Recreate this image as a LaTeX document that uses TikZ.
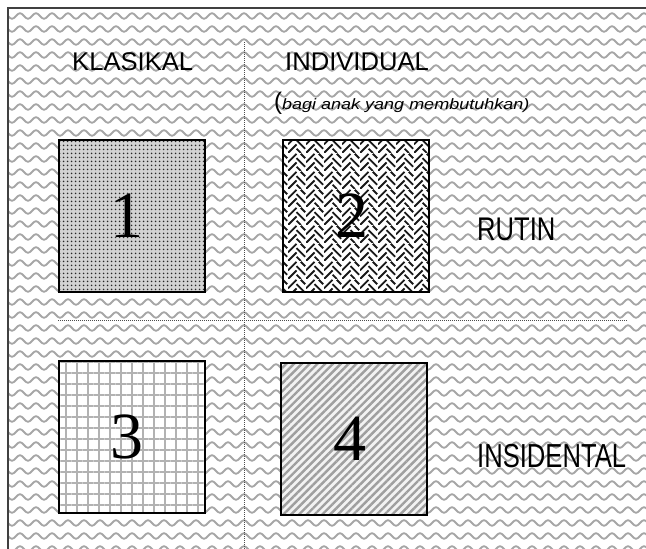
\documentclass[tikz,border=0pt]{standalone}
\usepackage{fontspec}
\setmainfont{Liberation Sans}
\newfontfamily\digitfont{Liberation Serif}
\usetikzlibrary{patterns,patterns.meta}

% wavy background texture
\pgfdeclarepatternformonly{waves}{\pgfpoint{-1pt}{-5pt}}{\pgfpoint{17pt}{5pt}}{\pgfpoint{16pt}{13pt}}{%
    \pgfsetlinewidth{1.8pt}\pgfsetroundcap
    \pgfpathmoveto{\pgfpoint{0pt}{0pt}}
    \pgfpathsine{\pgfpoint{4pt}{2.8pt}}
    \pgfpathcosine{\pgfpoint{4pt}{-2.8pt}}
    \pgfpathsine{\pgfpoint{4pt}{-2.8pt}}
    \pgfpathcosine{\pgfpoint{4pt}{2.8pt}}
    \pgfusepath{stroke}}

% woven texture for cell 2
\pgfdeclarepatternformonly{weave}{\pgfpoint{0pt}{0pt}}{\pgfpoint{18pt}{18pt}}{\pgfpoint{18pt}{18pt}}{%
    \pgfsetlinewidth{1.9pt}
    \pgfpathmoveto{\pgfpoint{0pt}{0pt}}\pgfpathlineto{\pgfpoint{9pt}{9pt}}
    \pgfpathmoveto{\pgfpoint{0pt}{9pt}}\pgfpathlineto{\pgfpoint{9pt}{18pt}}
    \pgfpathmoveto{\pgfpoint{9pt}{13.5pt}}\pgfpathlineto{\pgfpoint{18pt}{4.5pt}}
    \pgfpathmoveto{\pgfpoint{9pt}{4.5pt}}\pgfpathlineto{\pgfpoint{13.5pt}{0pt}}
    \pgfpathmoveto{\pgfpoint{13.5pt}{18pt}}\pgfpathlineto{\pgfpoint{18pt}{13.5pt}}
    \pgfusepath{stroke}}

\begin{document}
\begin{tikzpicture}[
    x=1pt, y=-1pt,
    outerframe/.style={draw=black!75, line width=1.4pt},
    divider/.style={draw=black!70, line width=0.7pt, dash pattern=on 1pt off 1pt},
    cell/.style={
        draw=black, line width=1.8pt,
        minimum width=146pt, minimum height=152pt,
        inner sep=0pt,
    },
    dotfill/.style={preaction={fill=gray!35},
        pattern={Dots[distance=4pt, radius=1.1pt]}, pattern color=black!85},
    weavefill/.style={preaction={fill=white},
        pattern=weave, pattern color=black!90},
    gridfill/.style={preaction={fill=white},
        pattern={Hatch[distance=11pt, angle=0, line width=2.2pt]}, pattern color=gray!60},
    stripefill/.style={preaction={fill=gray!10},
        pattern={Lines[angle=45, distance=5.5pt, line width=2.4pt]}, pattern color=gray!75},
    digit/.style={font=\digitfont\fontsize{66}{66}\selectfont, inner sep=0pt},
    head/.style={font=\fontsize{25.6}{30}\selectfont, anchor=base west, inner sep=0pt},
]

\useasboundingbox (0,0) rectangle (646,549);

% ── Background and frame ────────────────────────────────────
\fill[pattern=waves, pattern color=gray!70] (8,8) rectangle (646,549);
\draw[outerframe] (646,8) -- (8,8) -- (8,549);

% ── Dividers ────────────────────────────────────────────────
\coordinate (vtop) at (244,42);
\coordinate (vbot) at (244,549);
\coordinate (hleft) at (58,320);
\coordinate (hright) at (628,320);
\draw[divider] (vtop) -- (vbot);
\draw[divider] (hleft) -- (hright);

% ── Column headings ─────────────────────────────────────────
\node[head] (klasikal) at (72,70) {KLASIKAL};
\node[head] (individual) at (285,70) {INDIVIDUAL};
\node[anchor=base west, inner sep=0pt] (note) at (274,109)
    {{\fontsize{24}{24}\selectfont(}\scalebox{1.2}[1]{\fontsize{15}{17}\selectfont\itshape bagi anak yang membutuhkan)}};

% ── Cells ───────────────────────────────────────────────────
\foreach \n/\cx/\cy/\dx/\fillstyle in {1/132/216/-5/dotfill, 2/356/216/-4/weavefill,
                                       3/132/437/-5/gridfill, 4/354/439/-4/stripefill} {
    \node[cell, \fillstyle] (box\n) at (\cx,\cy) {};
    \node[digit] (num\n) at ([xshift=\dx pt]box\n.center) {\n};
}

% ── Row labels ──────────────────────────────────────────────
\node[head] (rutin) at (477,240) {\scalebox{1}[1.28]{RUTIN}};
\node[head] (insidental) at (477,467) {\scalebox{1}[1.3]{INSIDENTAL}};

\end{tikzpicture}
\end{document}
